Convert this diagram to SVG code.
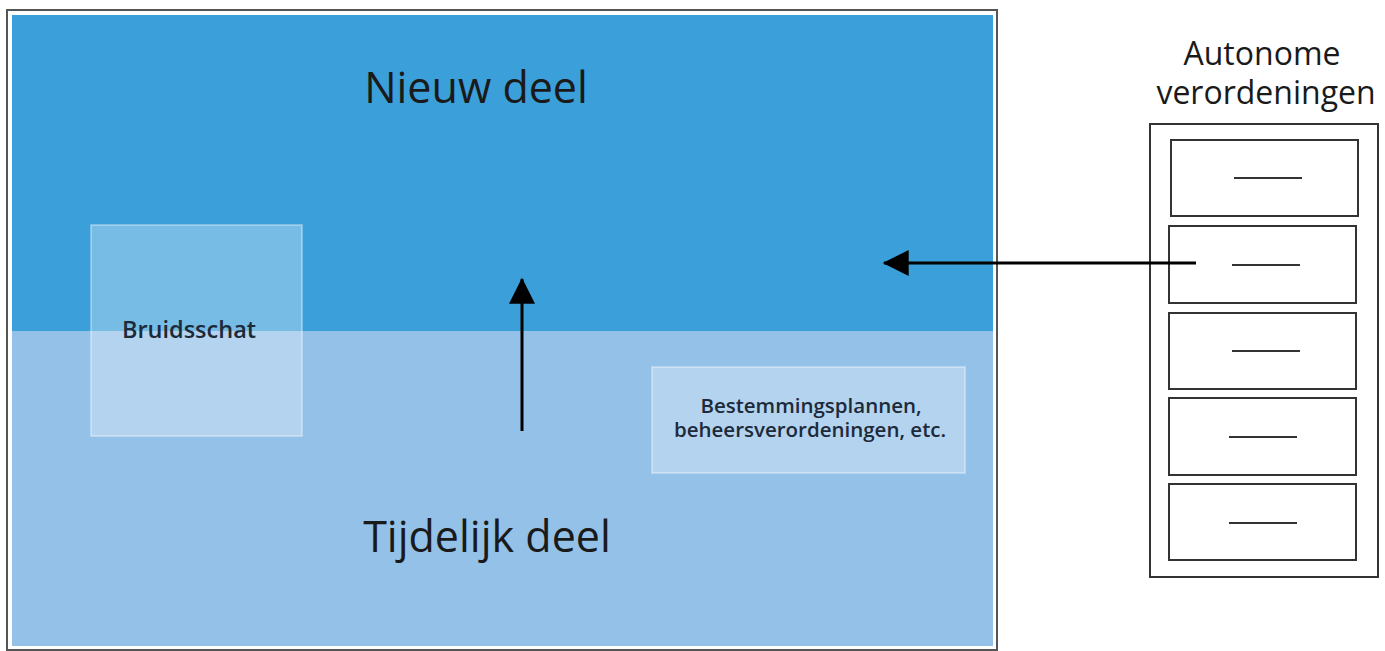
<svg xmlns="http://www.w3.org/2000/svg" width="1385" height="651" viewBox="0 0 1385 651">
<style>
  text { font-family: "Open Sans", "Noto Sans", "DejaVu Sans", sans-serif; fill: #1a1a1a; text-anchor: middle; }
  .big { font-size: 43px; }
  .mid { font-size: 23.5px; font-weight: 600; fill: #1c2a3a; }
  .mid2 { font-size: 20.5px; font-weight: 600; fill: #1c2a3a; }
  .title { font-size: 32px; }
  .drawer { fill: #ffffff; stroke: #333333; stroke-width: 2; }
  .handle { stroke: #333333; stroke-width: 2; }
  .inner { fill: #ffffff; fill-opacity: 0.3; stroke: #ffffff; stroke-opacity: 0.45; stroke-width: 1.5; }
  .conn { stroke: #000000; stroke-width: 3; fill: none; }
</style>
<defs>
  <marker id="arrowL" viewBox="0 0 10 10" refX="9.5" refY="5" markerWidth="30" markerHeight="26" markerUnits="userSpaceOnUse" orient="auto">
    <path d="M0,0 L10,5 L0,10 Z" fill="#000000"/>
  </marker>
</defs>
<rect width="1385" height="651" fill="#ffffff"/>
<g id="frame">
  <rect x="7" y="10" width="990" height="640" fill="#ffffff" stroke="#555555" stroke-width="2"/>
  <rect x="12" y="15" width="981" height="316" fill="#3b9fd9"/>
  <rect x="12" y="331" width="981" height="315" fill="#93c1e8"/>
</g>
<g id="nieuw-deel">
  <text class="big" x="476" y="103">Nieuw deel</text>
</g>
<g id="tijdelijk-deel">
  <text class="big" x="487" y="552">Tijdelijk deel</text>
</g>
<g id="bruidsschat">
  <rect class="inner" x="91" y="225" width="211" height="211"/>
  <text class="mid" x="189" y="338">Bruidsschat</text>
</g>
<g id="bestemmingsplannen">
  <rect class="inner" x="652" y="367" width="313" height="106"/>
  <text class="mid2" x="811" y="413">Bestemmingsplannen,</text>
  <text class="mid2" x="810" y="437">beheersverordeningen, etc.</text>
</g>
<g id="autonome-verordeningen">
  <text class="title" x="1262" y="65">Autonome</text>
  <text class="title" x="1266" y="104">verordeningen</text>
  <rect x="1150" y="124" width="228" height="453" fill="#ffffff" stroke="#333333" stroke-width="2"/>
  <rect class="drawer" x="1171" y="140" width="187" height="76"/>
  <line class="handle" x1="1234" y1="178" x2="1302" y2="178"/>
  <rect class="drawer" x="1169" y="226" width="187" height="77"/>
  <line class="handle" x1="1232" y1="265" x2="1300" y2="265"/>
  <rect class="drawer" x="1169" y="313" width="187" height="76"/>
  <line class="handle" x1="1232" y1="351" x2="1300" y2="351"/>
  <rect class="drawer" x="1169" y="398" width="187" height="77"/>
  <line class="handle" x1="1229" y1="437" x2="1297" y2="437"/>
  <rect class="drawer" x="1169" y="484" width="187" height="76"/>
  <line class="handle" x1="1229" y1="523" x2="1297" y2="523"/>
</g>
<g id="connectors">
  <line class="conn" x1="522" y1="431" x2="522" y2="279" marker-end="url(#arrowL)"/>
  <line class="conn" x1="1196" y1="263" x2="884" y2="263" marker-end="url(#arrowL)"/>
</g>
</svg>
